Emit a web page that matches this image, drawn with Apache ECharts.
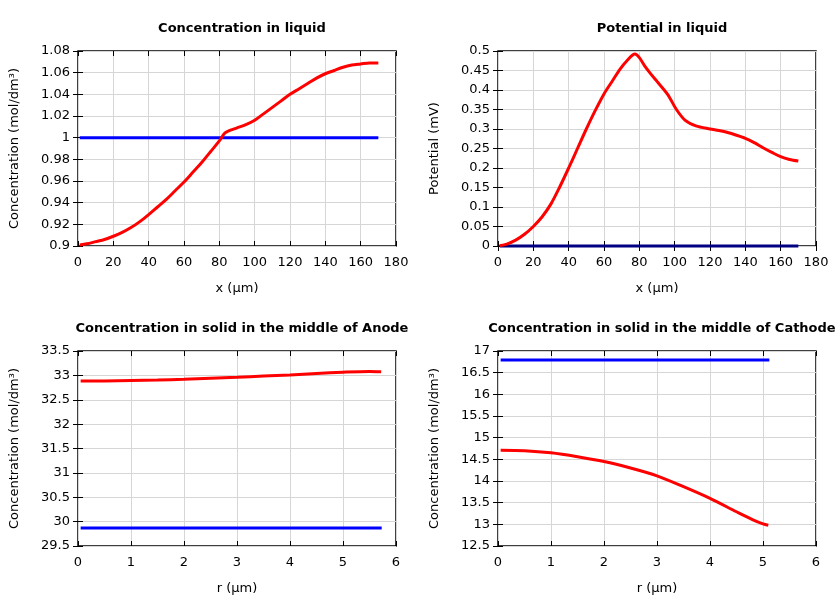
<!DOCTYPE html>
<html>
<head>
<meta charset="utf-8">
<script src="https://cdn.jsdelivr.net/npm/echarts@6/dist/echarts.min.js"></script>
<style>html,body{margin:0;padding:0;background:#fff}#c{width:840px;height:600px}</style>
</head>
<body>
<div id="c"></div>
<script>
// ---- Data ----
const titles = ['Concentration in liquid', 'Potential in liquid', 'Concentration in solid in the middle of Anode', 'Concentration in solid in the middle of Cathode'];
const yNames = ['Concentration (mol/dm³)', 'Potential (mV)', 'Concentration (mol/dm³)', 'Concentration (mol/dm³)'];
const xNames = ['x (µm)', 'x (µm)', 'r (µm)', 'r (µm)'];

// Plot 1: concentration in liquid
const liqX = [1, 5, 10, 15, 20, 25, 30, 35, 40, 45, 50, 55, 60, 65, 70, 75, 80, 83, 85, 90, 95, 100, 105, 110, 115, 120, 125, 130, 135, 140, 145, 150, 155, 160, 165, 170];
const liqRed = [0.901, 0.902, 0.904, 0.906, 0.909, 0.9125, 0.917, 0.9225, 0.929, 0.936, 0.943, 0.951, 0.959, 0.968, 0.977, 0.987, 0.997, 1.004, 1.006, 1.009, 1.012, 1.016, 1.022, 1.028, 1.034, 1.040, 1.045, 1.050, 1.055, 1.059, 1.062, 1.065, 1.067, 1.068, 1.069, 1.069];
const liqBlueX = [1, 170];
const liqBlue = [1.0, 1.0];

// Plot 2: potential in liquid
const potX = [1, 5, 10, 15, 20, 25, 30, 35, 40, 45, 50, 55, 60, 65, 69, 73, 77.5, 80, 83, 86, 90, 96, 101, 106, 112, 120, 125, 130, 135, 140, 145, 150, 155, 160, 165, 170];
const potRed = [0.001, 0.005, 0.015, 0.03, 0.05, 0.075, 0.108, 0.152, 0.2, 0.25, 0.3, 0.347, 0.39, 0.425, 0.453, 0.475, 0.492, 0.483, 0.462, 0.444, 0.422, 0.389, 0.35, 0.322, 0.308, 0.300, 0.296, 0.291, 0.284, 0.276, 0.265, 0.252, 0.24, 0.229, 0.222, 0.218];
const potBaseX = [1, 170];
const potBase = [0, 0];

// Plot 3: anode solid
const anX = [0.05, 0.5, 1, 1.5, 2, 2.5, 3, 3.5, 4, 4.5, 5, 5.5, 5.72];
const anRed = [32.885, 32.887, 32.895, 32.905, 32.92, 32.94, 32.96, 32.985, 33.01, 33.04, 33.065, 33.08, 33.075];
const anBlueX = [0.05, 5.73];
const anBlue = [29.87, 29.87];

// Plot 4: cathode solid
const caX = [0.05, 0.5, 1, 1.5, 2, 2.5, 3, 3.5, 4, 4.5, 4.8, 5, 5.1];
const caRed = [14.71, 14.70, 14.65, 14.56, 14.45, 14.30, 14.12, 13.87, 13.60, 13.29, 13.11, 13.01, 12.98];
const caBlueX = [0.05, 5.12];
const caBlue = [16.79, 16.79];

const xRanges = [[0, 180, 20], [0, 180, 20], [0, 6, 1], [0, 6, 1]];
const yRanges = [[0.9, 1.08, 0.02], [0, 0.5, 0.05], [29.5, 33.5, 0.5], [12.5, 17, 0.5]];

// ---- Build ----
function pairs(xs, ys) { return xs.map((x, i) => [x, ys[i]]); }
const font = 'DejaVu Sans';
const grids = [
  { left: 78, top: 51, width: 318, height: 195 },
  { left: 498, top: 51, width: 318, height: 195 },
  { left: 78, top: 351, width: 318, height: 195 },
  { left: 498, top: 351, width: 318, height: 195 }
];
const option = { animation: false, backgroundColor: '#fff', title: [], grid: [], xAxis: [], yAxis: [], series: [] };

function fmt(v) { return String(+v.toFixed(4)); }

grids.forEach((g, i) => {
  option.grid.push(Object.assign({ show: true, borderColor: '#000', borderWidth: 1.5, backgroundColor: 'transparent' }, g));
  option.title.push({
    text: titles[i], left: g.left + g.width / 2, top: g.top - 34, textAlign: 'center',
    textStyle: { fontFamily: font, fontSize: 13, fontWeight: 'bold', color: '#000' }
  });
  const xr = xRanges[i], yr = yRanges[i];
  const common = { gridIndex: i, type: 'value', axisLine: { show: false }, axisTick: { show: true, inside: true, length: 5, lineStyle: { color: '#000', width: 1 } } };
  option.xAxis.push(Object.assign({}, common, {
    position: 'bottom', min: xr[0], max: xr[1], interval: xr[2],
    name: xNames[i], nameLocation: 'middle', nameGap: 36,
    nameTextStyle: { fontFamily: font, fontSize: 13, color: '#000' },
    axisLabel: { fontFamily: font, fontSize: 13, color: '#000', margin: 10, formatter: fmt },
    splitLine: { show: true, lineStyle: { color: '#d6d6d6', width: 1 } }
  }));
  option.xAxis.push(Object.assign({}, common, {
    position: 'top', min: xr[0], max: xr[1], interval: xr[2],
    axisLabel: { show: false }, splitLine: { show: false }
  }));
  option.yAxis.push(Object.assign({}, common, {
    position: 'left', min: yr[0], max: yr[1], interval: yr[2],
    name: yNames[i], nameLocation: 'middle', nameGap: 57, nameRotate: 90,
    nameTextStyle: { fontFamily: font, fontSize: 13, color: '#000' },
    axisLabel: { fontFamily: font, fontSize: 13, color: '#000', margin: 8, formatter: fmt },
    splitLine: { show: true, lineStyle: { color: '#d6d6d6', width: 1 } }
  }));
  option.yAxis.push(Object.assign({}, common, {
    position: 'right', min: yr[0], max: yr[1], interval: yr[2],
    axisLabel: { show: false }, splitLine: { show: false }
  }));
});

function line(i, xs, ys, color, extra) {
  option.series.push(Object.assign({
    type: 'line', xAxisIndex: i * 2, yAxisIndex: i * 2, data: pairs(xs, ys),
    showSymbol: false, symbol: 'none', smooth: 0.3,
    lineStyle: { color: color, width: 3 }, itemStyle: { color: color }, z: 3
  }, extra || {}));
}
line(0, liqBlueX, liqBlue, '#0000ff', { smooth: false });
line(0, liqX, liqRed, '#ff0000');
line(1, potBaseX, potBase, '#000080', { smooth: false, clip: false });
line(1, potX, potRed, '#ff0000', { z: 4 });
line(2, anBlueX, anBlue, '#0000ff', { smooth: false });
line(2, anX, anRed, '#ff0000');
line(3, caBlueX, caBlue, '#0000ff', { smooth: false });
line(3, caX, caRed, '#ff0000');

const chart = echarts.init(document.getElementById('c'), null, { renderer: 'canvas' });
chart.setOption(option);
</script>
</body>
</html>
